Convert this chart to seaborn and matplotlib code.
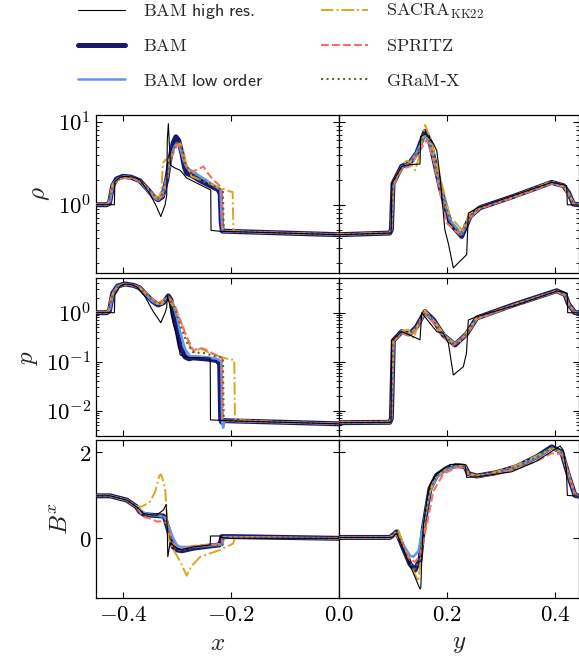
import numpy as np
import pandas as pd
import matplotlib
matplotlib.use("Agg")
import matplotlib.pyplot as plt
import seaborn as sns
from matplotlib.ticker import FuncFormatter, LogLocator, NullFormatter, FixedLocator, MultipleLocator

# ---------------- data ----------------
# top row: rho, left column (x)
rho_l_hr = [(-0.45,1.0),(-0.416,1.0),(-0.415,1.9),(-0.405,2.15),(-0.396,2.2),(-0.380,2.15),(-0.369,2.0),(-0.350,1.35),(-0.338,0.95),(-0.330,0.72),(-0.322,1.0),(-0.319,1.3),(-0.318,6.0),(-0.316,9.5),(-0.314,5.0),(-0.312,3.0),(-0.305,2.8),(-0.294,2.6),(-0.282,2.1),(-0.257,1.74),(-0.239,1.52),(-0.2375,1.5),(-0.237,0.49),(-0.22,0.478),(-0.10,0.455),(0.0,0.435)]
rho_l_bam = [(-0.45,1.0),(-0.43,1.0),(-0.425,1.05),(-0.419,1.7),(-0.412,2.05),(-0.400,2.2),(-0.385,2.15),(-0.369,1.95),(-0.355,1.55),(-0.343,1.25),(-0.335,1.15),(-0.327,1.25),(-0.319,2.0),(-0.313,3.6),(-0.307,5.6),(-0.302,6.6),(-0.297,6.0),(-0.291,4.2),(-0.286,2.8),(-0.282,2.4),(-0.270,2.2),(-0.257,1.95),(-0.239,1.7),(-0.2235,1.52),(-0.220,1.35),(-0.218,0.6),(-0.216,0.48),(-0.10,0.455),(0.0,0.435)]
rho_l_low = [(-0.45,1.0),(-0.43,1.0),(-0.424,1.1),(-0.418,1.8),(-0.41,2.05),(-0.398,2.2),(-0.385,2.15),(-0.369,1.95),(-0.355,1.5),(-0.343,1.22),(-0.335,1.15),(-0.327,1.3),(-0.319,2.1),(-0.312,3.5),(-0.305,5.0),(-0.300,5.5),(-0.295,5.0),(-0.288,3.5),(-0.282,2.8),(-0.257,2.2),(-0.233,1.74),(-0.2195,1.52),(-0.217,0.6),(-0.2155,0.48),(-0.10,0.455),(0.0,0.435)]
rho_l_sacra = [(-0.45,1.0),(-0.43,1.0),(-0.425,1.2),(-0.419,1.8),(-0.41,2.0),(-0.396,2.15),(-0.380,2.1),(-0.369,1.95),(-0.355,1.6),(-0.343,1.3),(-0.335,1.2),(-0.329,1.45),(-0.326,3.2),(-0.321,3.5),(-0.315,3.4),(-0.308,4.5),(-0.300,5.3),(-0.294,5.5),(-0.288,4.5),(-0.282,2.9),(-0.273,2.2),(-0.257,2.0),(-0.226,1.66),(-0.202,1.45),(-0.197,1.42),(-0.1955,0.5),(-0.19,0.475),(-0.10,0.455),(0.0,0.44)]
rho_l_spritz = [(-0.45,1.0),(-0.428,1.0),(-0.42,1.6),(-0.41,2.0),(-0.396,2.1),(-0.380,2.05),(-0.369,1.9),(-0.350,1.45),(-0.335,1.15),(-0.325,1.3),(-0.316,2.4),(-0.310,3.8),(-0.300,5.2),(-0.294,5.0),(-0.285,3.2),(-0.276,2.5),(-0.265,2.6),(-0.251,2.9),(-0.245,2.5),(-0.233,2.0),(-0.223,1.75),(-0.217,1.6),(-0.2155,0.5),(-0.21,0.478),(-0.10,0.455),(0.0,0.435)]
rho_l_gramx = [(-0.45,1.0),(-0.428,1.0),(-0.42,1.65),(-0.41,2.05),(-0.396,2.2),(-0.380,2.15),(-0.369,1.95),(-0.350,1.45),(-0.335,1.18),(-0.325,1.35),(-0.316,2.6),(-0.308,4.5),(-0.300,5.6),(-0.293,5.0),(-0.285,3.2),(-0.276,2.5),(-0.257,2.05),(-0.240,1.8),(-0.225,1.6),(-0.215,1.5),(-0.2135,0.5),(-0.21,0.478),(-0.10,0.455),(0.0,0.435)]

# top row: rho, right column (y)
rho_r_hr = [(0.0,0.435),(0.094,0.455),(0.0965,0.46),(0.098,1.8),(0.116,2.9),(0.131,3.05),(0.150,3.1),(0.1512,6.6),(0.159,7.2),(0.1623,7.0),(0.1747,5.5),(0.181,4.5),(0.187,2.2),(0.196,0.5),(0.2025,0.34),(0.2117,0.173),(0.2364,0.25),(0.2395,0.79),(0.255,0.91),(0.3938,1.86),(0.415,1.75),(0.4215,1.7),(0.4228,1.0),(0.4444,0.99)]
rho_r_bam = [(0.0,0.435),(0.094,0.455),(0.097,0.5),(0.1,1.8),(0.116,2.9),(0.131,3.2),(0.144,4.2),(0.1593,7.7),(0.1685,5.8),(0.187,1.66),(0.2056,0.6),(0.2272,0.415),(0.2426,0.72),(0.2611,0.92),(0.3228,1.26),(0.3938,1.86),(0.4154,1.7),(0.425,1.4),(0.434,1.02),(0.4444,1.0)]
rho_r_low = [(0.0,0.435),(0.094,0.455),(0.097,0.5),(0.1006,1.8),(0.116,2.8),(0.131,3.2),(0.144,4.3),(0.1593,7.0),(0.1685,5.6),(0.187,1.7),(0.2056,0.65),(0.2272,0.44),(0.2426,0.7),(0.2611,0.92),(0.3228,1.26),(0.3938,1.84),(0.4154,1.7),(0.426,1.35),(0.435,1.02),(0.4444,1.0)]
rho_r_sacra = [(0.0,0.44),(0.094,0.46),(0.097,0.5),(0.1,1.8),(0.116,2.9),(0.125,3.4),(0.131,3.3),(0.1407,2.6),(0.147,3.5),(0.1593,9.2),(0.1685,6.5),(0.1932,1.52),(0.2056,0.72),(0.2272,0.5),(0.2426,0.79),(0.2611,0.93),(0.3228,1.27),(0.3938,1.9),(0.4154,1.72),(0.426,1.3),(0.435,1.02),(0.4444,1.0)]
rho_r_spritz = [(0.0,0.435),(0.094,0.455),(0.097,0.5),(0.1,1.7),(0.116,2.7),(0.131,2.9),(0.144,3.9),(0.1623,6.1),(0.1747,3.5),(0.1809,2.2),(0.1994,0.6),(0.2241,0.435),(0.2426,0.7),(0.2611,0.9),(0.3228,1.22),(0.3938,1.8),(0.4154,1.65),(0.427,1.25),(0.437,1.0),(0.4444,1.0)]
rho_r_gramx = [(0.0,0.435),(0.094,0.455),(0.097,0.5),(0.1,1.8),(0.116,2.85),(0.131,3.1),(0.144,4.2),(0.1593,7.4),(0.1685,5.7),(0.187,1.7),(0.2056,0.62),(0.2272,0.42),(0.2426,0.72),(0.2611,0.92),(0.3228,1.26),(0.3938,1.86),(0.4154,1.7),(0.425,1.4),(0.434,1.02),(0.4444,1.0)]

# middle row: p, left column
p_l_hr = [(-0.45,1.0),(-0.416,1.0),(-0.415,2.3),(-0.405,3.5),(-0.396,3.85),(-0.383,3.7),(-0.375,3.4),(-0.36,2.2),(-0.345,1.1),(-0.330,0.625),(-0.322,1.0),(-0.319,1.3),(-0.318,2.2),(-0.313,1.4),(-0.307,0.6),(-0.300,0.32),(-0.294,0.137),(-0.282,0.123),(-0.25,0.12),(-0.2385,0.118),(-0.238,0.0065),(-0.2,0.0062),(-0.1,0.0058),(0.0,0.0054)]
p_l_bam = [(-0.45,1.0),(-0.43,1.0),(-0.425,1.1),(-0.419,2.5),(-0.41,3.5),(-0.396,3.85),(-0.38,3.6),(-0.369,3.2),(-0.355,2.2),(-0.345,1.7),(-0.335,1.44),(-0.325,1.6),(-0.316,2.2),(-0.311,1.8),(-0.307,0.9),(-0.300,0.45),(-0.294,0.2),(-0.285,0.125),(-0.278,0.115),(-0.270,0.12),(-0.240,0.112),(-0.226,0.105),(-0.221,0.09),(-0.219,0.0065),(-0.217,0.0058),(-0.214,0.0063),(-0.2,0.0062),(-0.1,0.0058),(0.0,0.0054)]
p_l_low = [(-0.45,1.0),(-0.43,1.0),(-0.424,1.2),(-0.418,2.6),(-0.41,3.5),(-0.396,3.85),(-0.38,3.6),(-0.369,3.2),(-0.355,2.2),(-0.345,1.7),(-0.335,1.5),(-0.325,1.7),(-0.316,2.1),(-0.308,1.6),(-0.300,0.8),(-0.294,0.4),(-0.285,0.18),(-0.276,0.13),(-0.250,0.125),(-0.226,0.115),(-0.218,0.1),(-0.2165,0.006),(-0.2145,0.0045),(-0.212,0.0062),(-0.2,0.0062),(-0.1,0.0058),(0.0,0.0054)]
p_l_sacra = [(-0.45,1.0),(-0.43,1.0),(-0.42,2.3),(-0.41,3.4),(-0.396,3.8),(-0.38,3.6),(-0.369,3.3),(-0.35,2.0),(-0.338,1.55),(-0.328,1.5),(-0.322,1.8),(-0.316,2.0),(-0.310,1.5),(-0.300,1.1),(-0.294,0.71),(-0.282,0.32),(-0.273,0.173),(-0.266,0.155),(-0.257,0.187),(-0.233,0.14),(-0.202,0.11),(-0.194,0.11),(-0.1926,0.0068),(-0.18,0.0064),(-0.1,0.0058),(0.0,0.0054)]
p_l_spritz = [(-0.45,1.0),(-0.428,1.0),(-0.42,2.3),(-0.41,3.4),(-0.396,3.75),(-0.38,3.6),(-0.369,3.3),(-0.35,2.1),(-0.335,1.6),(-0.325,1.8),(-0.316,2.1),(-0.305,1.5),(-0.294,0.7),(-0.282,0.32),(-0.270,0.17),(-0.257,0.19),(-0.251,0.185),(-0.235,0.15),(-0.223,0.13),(-0.2165,0.12),(-0.215,0.0066),(-0.21,0.0062),(-0.1,0.0058),(0.0,0.0054)]
p_l_gramx = [(-0.45,1.0),(-0.428,1.0),(-0.42,2.2),(-0.41,3.4),(-0.396,3.8),(-0.38,3.6),(-0.369,3.2),(-0.35,2.0),(-0.335,1.5),(-0.325,1.7),(-0.316,2.1),(-0.305,1.3),(-0.294,0.55),(-0.282,0.25),(-0.270,0.155),(-0.250,0.15),(-0.230,0.13),(-0.215,0.12),(-0.2135,0.0066),(-0.21,0.0062),(-0.1,0.0058),(0.0,0.0054)]

# middle row: p, right column
p_r_hr = [(0.0,0.0057),(0.094,0.0058),(0.0963,0.006),(0.0975,0.27),(0.116,0.41),(0.131,0.35),(0.150,0.28),(0.1531,1.0),(0.1685,0.61),(0.1809,0.41),(0.1932,0.38),(0.2025,0.24),(0.2117,0.0535),(0.2302,0.079),(0.236,0.148),(0.2395,0.71),(0.255,0.83),(0.329,1.44),(0.403,2.75),(0.41,2.7),(0.4225,2.5),(0.4235,1.0),(0.4444,0.99)]
p_r_bam = [(0.0,0.0057),(0.094,0.0058),(0.097,0.007),(0.1006,0.27),(0.116,0.41),(0.131,0.37),(0.1438,0.52),(0.1593,1.05),(0.1747,0.72),(0.1932,0.35),(0.2148,0.22),(0.2364,0.37),(0.255,0.78),(0.3228,1.44),(0.403,2.8),(0.4185,2.35),(0.425,1.5),(0.437,1.0),(0.4444,1.0)]
p_r_low = [(0.0,0.0057),(0.094,0.0058),(0.097,0.007),(0.101,0.27),(0.116,0.4),(0.131,0.37),(0.1438,0.5),(0.1593,0.98),(0.1747,0.7),(0.1932,0.36),(0.2148,0.23),(0.2364,0.37),(0.255,0.76),(0.3228,1.42),(0.403,2.75),(0.4185,2.3),(0.426,1.45),(0.437,1.0),(0.4444,1.0)]
p_r_sacra = [(0.0,0.0058),(0.094,0.006),(0.097,0.007),(0.1,0.27),(0.116,0.42),(0.128,0.45),(0.138,0.3),(0.147,0.6),(0.1593,1.1),(0.1747,0.72),(0.1932,0.38),(0.2117,0.23),(0.2241,0.26),(0.2364,0.4),(0.255,0.8),(0.3228,1.44),(0.403,2.8),(0.4185,2.35),(0.426,1.45),(0.437,1.0),(0.4444,1.0)]
p_r_spritz = [(0.0,0.0057),(0.094,0.0058),(0.097,0.007),(0.1006,0.26),(0.116,0.38),(0.131,0.33),(0.1438,0.48),(0.1593,0.95),(0.1747,0.62),(0.1932,0.32),(0.2117,0.22),(0.2364,0.35),(0.255,0.74),(0.3228,1.38),(0.403,2.7),(0.4185,2.25),(0.427,1.4),(0.438,1.0),(0.4444,1.0)]
p_r_gramx = [(0.0,0.0057),(0.094,0.0058),(0.097,0.007),(0.1006,0.27),(0.116,0.4),(0.131,0.37),(0.1438,0.52),(0.1593,1.02),(0.1747,0.7),(0.1932,0.35),(0.2148,0.22),(0.2364,0.37),(0.255,0.78),(0.3228,1.44),(0.403,2.78),(0.4185,2.3),(0.425,1.5),(0.437,1.0),(0.4444,1.0)]

# bottom row: B^x, left column
bx_l_hr = [(-0.45,0.99),(-0.424,0.99),(-0.393,0.89),(-0.375,0.735),(-0.362,0.58),(-0.35,0.55),(-0.338,0.54),(-0.325,0.66),(-0.320,0.79),(-0.318,0.2),(-0.317,-0.43),(-0.313,-0.11),(-0.30,-0.23),(-0.294,-0.27),(-0.27,-0.2),(-0.2385,-0.155),(-0.238,0.054),(-0.22,0.054),(-0.219,0.02),(-0.2,0.0),(0.0,0.0)]
bx_l_bam = [(-0.45,0.99),(-0.424,0.99),(-0.393,0.89),(-0.375,0.735),(-0.369,0.62),(-0.362,0.56),(-0.35,0.54),(-0.325,0.52),(-0.322,0.45),(-0.316,0.2),(-0.310,-0.08),(-0.307,-0.2),(-0.300,-0.27),(-0.291,-0.29),(-0.27,-0.23),(-0.233,-0.17),(-0.222,-0.155),(-0.219,-0.08),(-0.217,0.04),(-0.2,0.04),(-0.1,0.02),(0.0,0.0)]
bx_l_low = [(-0.45,0.99),(-0.424,0.99),(-0.393,0.89),(-0.375,0.74),(-0.362,0.6),(-0.35,0.55),(-0.33,0.52),(-0.322,0.48),(-0.316,0.31),(-0.307,0.0),(-0.300,-0.16),(-0.294,-0.2),(-0.27,-0.2),(-0.233,-0.16),(-0.216,-0.14),(-0.213,0.03),(-0.2,0.03),(0.0,0.0)]
bx_l_sacra = [(-0.45,0.99),(-0.424,0.99),(-0.393,0.89),(-0.375,0.74),(-0.365,0.74),(-0.35,0.85),(-0.34,1.1),(-0.333,1.45),(-0.330,1.49),(-0.327,1.4),(-0.322,1.16),(-0.319,0.6),(-0.316,0.0),(-0.305,-0.3),(-0.294,-0.54),(-0.282,-0.87),(-0.274,-0.66),(-0.257,-0.43),(-0.22,-0.27),(-0.202,-0.16),(-0.196,-0.12),(-0.193,0.0),(-0.18,0.02),(0.0,0.0)]
bx_l_spritz = [(-0.45,0.99),(-0.424,0.99),(-0.393,0.88),(-0.375,0.72),(-0.362,0.5),(-0.345,0.45),(-0.338,0.39),(-0.325,0.40),(-0.319,0.35),(-0.313,0.1),(-0.307,-0.1),(-0.300,-0.25),(-0.294,-0.27),(-0.282,-0.2),(-0.257,-0.16),(-0.226,-0.14),(-0.217,-0.12),(-0.2155,0.02),(-0.2,0.02),(0.0,0.0)]
bx_l_gramx = [(-0.45,0.99),(-0.424,0.99),(-0.393,0.89),(-0.375,0.735),(-0.362,0.57),(-0.35,0.53),(-0.33,0.52),(-0.322,0.45),(-0.316,0.2),(-0.307,-0.15),(-0.300,-0.27),(-0.294,-0.28),(-0.27,-0.22),(-0.233,-0.18),(-0.216,-0.16),(-0.2135,0.02),(-0.2,0.02),(0.0,0.0)]

# bottom row: B^x, right column
bx_r_hr = [(0.0,0.02),(0.094,0.02),(0.0994,0.03),(0.1068,0.12),(0.119,-0.25),(0.150,-1.18),(0.1515,-1.15),(0.153,-0.6),(0.1562,0.3),(0.1623,0.85),(0.1685,1.25),(0.1809,1.5),(0.2056,1.72),(0.2333,1.72),(0.2364,1.42),(0.255,1.43),(0.32,1.55),(0.366,1.8),(0.4093,2.15),(0.4154,2.05),(0.421,1.6),(0.4228,1.0),(0.4444,0.98)]
bx_r_bam = [(0.0,0.02),(0.094,0.02),(0.1006,0.08),(0.1068,0.15),(0.1191,-0.23),(0.1315,-0.6),(0.1407,-0.74),(0.15,-0.5),(0.1562,0.23),(0.1685,1.16),(0.1809,1.47),(0.1994,1.63),(0.2179,1.70),(0.2333,1.67),(0.2395,1.51),(0.255,1.45),(0.292,1.53),(0.329,1.67),(0.366,1.90),(0.3938,2.13),(0.4123,2.01),(0.4247,1.47),(0.437,1.0),(0.4444,0.98)]
bx_r_low = [(0.0,0.02),(0.094,0.02),(0.1006,0.07),(0.1068,0.12),(0.1191,-0.15),(0.1315,-0.4),(0.1377,-0.43),(0.147,-0.3),(0.1562,0.3),(0.1685,1.1),(0.1809,1.42),(0.1994,1.6),(0.2179,1.68),(0.2333,1.66),(0.2395,1.5),(0.255,1.44),(0.292,1.52),(0.329,1.66),(0.366,1.88),(0.3938,2.1),(0.4123,2.0),(0.4247,1.5),(0.437,1.0),(0.4444,0.98)]
bx_r_sacra = [(0.0,0.02),(0.094,0.02),(0.1006,0.1),(0.1099,0.19),(0.1191,-0.15),(0.1315,-0.6),(0.1469,-1.0),(0.1531,-0.3),(0.1623,0.8),(0.1747,1.35),(0.1994,1.65),(0.2179,1.72),(0.2333,1.7),(0.2395,1.52),(0.255,1.46),(0.292,1.55),(0.329,1.7),(0.366,1.92),(0.3938,2.1),(0.4123,2.0),(0.4247,1.5),(0.437,1.0),(0.4444,0.98)]
bx_r_spritz = [(0.0,0.02),(0.094,0.02),(0.1006,0.05),(0.1068,0.08),(0.1191,-0.2),(0.1315,-0.48),(0.1407,-0.55),(0.15,-0.4),(0.1623,0.3),(0.1747,1.1),(0.1932,1.5),(0.2179,1.65),(0.2333,1.65),(0.2395,1.5),(0.255,1.43),(0.292,1.5),(0.329,1.62),(0.366,1.8),(0.3938,1.98),(0.4154,1.95),(0.4277,1.4),(0.438,1.0),(0.4444,0.98)]
bx_r_gramx = [(0.0,0.02),(0.094,0.02),(0.1006,0.08),(0.1068,0.14),(0.1191,-0.22),(0.1315,-0.58),(0.1407,-0.72),(0.15,-0.48),(0.1562,0.25),(0.1685,1.15),(0.1809,1.46),(0.1994,1.62),(0.2179,1.70),(0.2333,1.67),(0.2395,1.51),(0.255,1.45),(0.292,1.53),(0.329,1.67),(0.366,1.89),(0.3938,2.12),(0.4123,2.0),(0.4247,1.47),(0.437,1.0),(0.4444,0.98)]

labels = [r"$\mathrm{BAM}$ $\mathsf{high\ res.}$", r"$\mathrm{BAM}$",
          r"$\mathrm{BAM}$ $\mathsf{low\ order}$", r"$\mathrm{SACRA}_{\mathrm{KK22}}$",
          r"$\mathrm{SPRITZ}$", r"$\mathrm{GRaM}$-$\mathrm{X}$"]

# ---------------- style ----------------
sns.set_theme(style="ticks")
plt.rcParams.update({
    "mathtext.fontset": "cm",
    "axes.linewidth": 0.9,
    "axes.edgecolor": "black",
    "xtick.direction": "in", "ytick.direction": "in",
    "xtick.top": True, "ytick.right": True,
    "xtick.major.size": 4.5, "ytick.major.size": 4.5,
    "xtick.minor.size": 2.5, "ytick.minor.size": 2.5,
    "xtick.major.width": 0.8, "ytick.major.width": 0.8,
    "ytick.minor.width": 0.6,
    "xtick.color": "black", "ytick.color": "black",
})
plt.rcParams["font.family"] = ["DejaVu Sans"]

styles = [
    dict(color="black", lw=0.8, ls="-", zorder=6),
    dict(color="#191970", lw=3.6, ls="-", zorder=2),
    dict(color="#6495ED", lw=1.8, ls="-", zorder=3),
    dict(color="#DAA520", lw=1.4, ls="-.", zorder=4),
    dict(color="#F7705F", lw=1.5, ls="--", zorder=5),
    dict(color="#556B2F", lw=1.5, ls=":", zorder=5),
]

panels = [
    [[rho_l_hr, rho_l_bam, rho_l_low, rho_l_sacra, rho_l_spritz, rho_l_gramx],
     [rho_r_hr, rho_r_bam, rho_r_low, rho_r_sacra, rho_r_spritz, rho_r_gramx]],
    [[p_l_hr, p_l_bam, p_l_low, p_l_sacra, p_l_spritz, p_l_gramx],
     [p_r_hr, p_r_bam, p_r_low, p_r_sacra, p_r_spritz, p_r_gramx]],
    [[bx_l_hr, bx_l_bam, bx_l_low, bx_l_sacra, bx_l_spritz, bx_l_gramx],
     [bx_r_hr, bx_r_bam, bx_r_low, bx_r_sacra, bx_r_spritz, bx_r_gramx]],
]

W, H = 579, 662
fig = plt.figure(figsize=(W / 100, H / 100), dpi=100)

col_px = [(96, 243), (339, 240)]
row_px = [(115, 158), (278, 158), (440, 158)]
ylims = [(0.15, 12.1), (0.00305, 5.1), (-1.39, 2.29)]
ylabels = [r"$\rho$", r"$p$", r"$B^x$"]
TFS = 16.5

def mathfmt(v, pos):
    s = f"{v:.1f}"
    if s == "-0.0":
        s = "0.0"
    return "$" + s + "$"

def logfmt(v, pos):
    return r"$10^{%d}$" % int(round(np.log10(v)))

axes = []
for r in range(3):
    row = []
    for c in range(2):
        x0, w = col_px[c]
        y0, h = row_px[r]
        ax = fig.add_axes([x0 / W, 1 - (y0 + h) / H, w / W, h / H])
        for pts, st, lab in zip(panels[r][c], styles, labels):
            df = pd.DataFrame(pts, columns=["pos", "val"])
            sns.lineplot(data=df, x="pos", y="val", ax=ax, sort=False, estimator=None,
                         label=lab, legend=False, **st)
        if r < 2:
            ax.set_yscale("log")
            ax.yaxis.set_major_locator(LogLocator(base=10, numticks=10))
            ax.yaxis.set_minor_locator(LogLocator(base=10, subs=np.arange(2, 10), numticks=20))
            ax.yaxis.set_minor_formatter(NullFormatter())
            ax.yaxis.set_major_formatter(FuncFormatter(logfmt))
        else:
            ax.yaxis.set_major_locator(MultipleLocator(2))
            ax.yaxis.set_major_formatter(FuncFormatter(lambda v, p: "$%d$" % int(round(v))))
        ax.set_ylim(*ylims[r])
        if c == 0:
            ax.set_xlim(-0.45, 0.0)
            ax.xaxis.set_major_locator(FixedLocator([-0.4, -0.2]))
        else:
            ax.set_xlim(0.0, 0.4444)
            ax.xaxis.set_major_locator(FixedLocator([0.0, 0.2, 0.4]))
        ax.xaxis.set_major_formatter(FuncFormatter(mathfmt))
        ax.tick_params(axis="both", which="both", labelsize=TFS)
        ax.set_xlabel("")
        ax.set_ylabel("")
        if c == 0:
            ax.set_ylabel(ylabels[r], fontsize=18, labelpad=4)
        else:
            ax.tick_params(axis="y", labelleft=False)
        if r < 2:
            ax.tick_params(axis="x", labelbottom=False)
        else:
            ax.set_xlabel(r"$x$" if c == 0 else r"$y$", fontsize=18, labelpad=4)
        row.append(ax)
    axes.append(row)

handles, labs = axes[0][0].get_legend_handles_labels()
fig.legend(handles, labs, ncol=2, loc="upper center", bbox_to_anchor=(0.485, 1.0),
           frameon=False, fontsize=13, handlelength=2.6, handletextpad=1.0,
           columnspacing=3.2, labelspacing=0.9, borderaxespad=0.1, borderpad=0.02)

fig.savefig("out.png", dpi=100)
